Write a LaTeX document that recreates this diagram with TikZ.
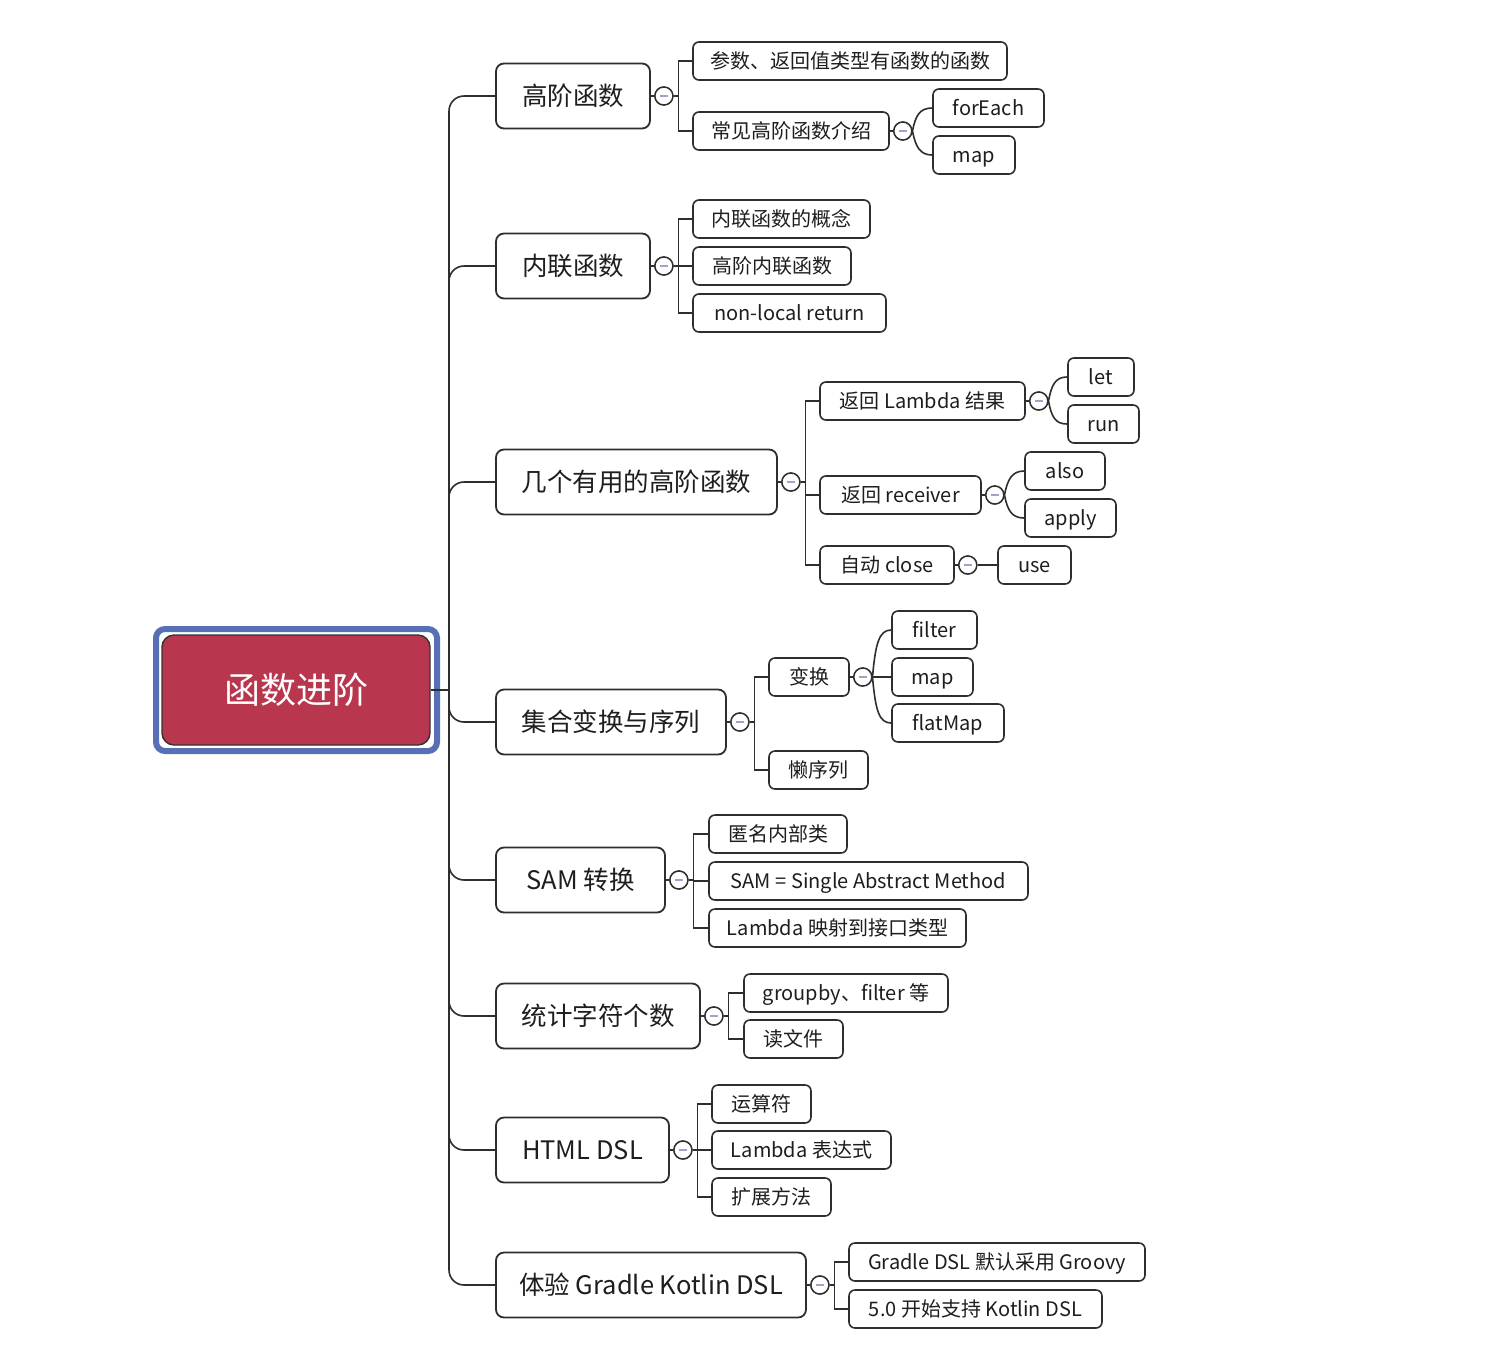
\documentclass[tikz,border=0pt]{standalone}
\usepackage{fontspec}
\setmainfont{Noto Sans CJK SC}
\definecolor{lc}{HTML}{2E2E2E}
\definecolor{tc}{HTML}{1E1E1E}
\definecolor{mc}{HTML}{9EA6C6}
\definecolor{rootred}{HTML}{B8374F}
\definecolor{selblue}{HTML}{5770B5}
\tikzset{
  l1/.style={draw=lc, line width=1.8pt, rounded corners=8pt, fill=white, text=tc,
    font=\fontsize{25.5}{30}\selectfont, inner sep=0pt, minimum height=65pt,
    text height=22.4pt, text depth=3.1pt},
  leaf/.style={draw=lc, line width=1.6pt, rounded corners=6pt, fill=white, text=tc,
    font=\fontsize{20}{24}\selectfont, inner sep=0pt, minimum height=38pt,
    text height=17.6pt, text depth=2.4pt},
  col/.style={circle, draw=lc, line width=1.4pt, fill=white, minimum size=18pt, inner sep=0pt,
    path picture={\draw[mc, line width=1.6pt] ([xshift=-4pt]path picture bounding box.center) -- ([xshift=4pt]path picture bounding box.center);}},
  link/.style={draw=lc, line width=1.6pt},
  rootbox/.style={draw=black!80, line width=1.4pt, rounded corners=12pt, fill=rootred, text=white,
    font=\fontsize{36}{42}\selectfont, inner sep=0pt, minimum width=268pt, minimum height=110pt},
  selframe/.style={draw=selblue, line width=6pt, rounded corners=9pt, inner sep=0pt,
    minimum width=281pt, minimum height=122pt}
}
\newcommand\cv[3]{\draw[link] (#1.east) .. controls +(3,#3) and +(-12,0) .. (#2.west);}
\newcommand\br[2]{\draw[link] (#1.east) -- ++(5,0) |- (#2.west);}
\begin{document}
\begin{tikzpicture}[x=1pt,y=-1pt]
\useasboundingbox (0,0) rectangle (1512,1366);
\fill[white] (0,0) rectangle (1512,1366);

% root
\node[selframe] (sel) at (296.5,690) {};
\node[rootbox] (root) at (296,690) {函数进阶};

% level 1
\node[l1, minimum width=154pt] (h1) at (573,96) {高阶函数};
\node[l1, minimum width=154pt] (h2) at (573,266) {内联函数};
\node[l1, minimum width=281pt] (h3) at (636.5,482) {几个有用的高阶函数};
\node[l1, minimum width=230pt] (h4) at (611,722) {集合变换与序列};
\node[l1, minimum width=169pt] (h5) at (580.5,880) {SAM 转换};
\node[l1, minimum width=204pt] (h6) at (598,1016) {统计字符个数};
\node[l1, minimum width=173pt] (h7) at (582.5,1150) {HTML DSL};
\node[l1, minimum width=310pt] (h8) at (651,1285) {体验 Gradle Kotlin DSL};

% trunk
\coordinate (tr) at (449,690);
\draw[link] (root.east) -- (tr);
\foreach \n in {h1,h2,h3,h4,h5,h6,h7,h8}
  \draw[link, rounded corners=15pt] (tr) |- (\n.west);

% leaves
\node[leaf, minimum width=314pt] (a1) at (850,61) {参数、返回值类型有函数的函数};
\node[leaf, minimum width=196pt] (a2) at (791,131) {常见高阶函数介绍};
\node[leaf, minimum width=111pt] (a21) at (988.5,108) {forEach};
\node[leaf, minimum width=82pt] (a22) at (974,155) {map};

\node[leaf, minimum width=177pt] (b1) at (781.5,219) {内联函数的概念};
\node[leaf, minimum width=158pt] (b2) at (772,266) {高阶内联函数};
\node[leaf, minimum width=193pt] (b3) at (789.5,313) {non-local return};

\node[leaf, minimum width=205pt] (c1) at (922.5,401) {返回 Lambda 结果};
\node[leaf, minimum width=161pt] (c2) at (900.5,495) {返回 receiver};
\node[leaf, minimum width=134pt] (c3) at (887,565) {自动 close};
\node[leaf, minimum width=66pt] (c11) at (1101,377) {let};
\node[leaf, minimum width=71pt] (c12) at (1103.5,424) {run};
\node[leaf, minimum width=80pt] (c21) at (1065,471) {also};
\node[leaf, minimum width=91pt] (c22) at (1070.5,518) {apply};
\node[leaf, minimum width=73pt] (c31) at (1034.5,565) {use};

\node[leaf, minimum width=80pt] (d1) at (809,677) {变换};
\node[leaf, minimum width=99pt] (d2) at (818.5,770) {懒序列};
\node[leaf, minimum width=85pt] (d11) at (934.5,630) {filter};
\node[leaf, minimum width=81pt] (d12) at (932.5,677) {map};
\node[leaf, minimum width=112pt] (d13) at (948,723) {flatMap};

\node[leaf, minimum width=138pt] (e1) at (778,834) {匿名内部类};
\node[leaf, minimum width=319pt] (e2) at (868.5,881) {SAM = Single Abstract Method};
\node[leaf, minimum width=257pt] (e3) at (837.5,928) {Lambda 映射到接口类型};

\node[leaf, minimum width=204pt] (f1) at (846,993) {groupby、filter 等};
\node[leaf, minimum width=99pt] (f2) at (793.5,1039) {读文件};

\node[leaf, minimum width=99pt] (g1) at (761.5,1104) {运算符};
\node[leaf, minimum width=179pt] (g2) at (801.5,1150) {Lambda 表达式};
\node[leaf, minimum width=119pt] (g3) at (771.5,1197) {扩展方法};

\node[leaf, minimum width=296pt] (k1) at (997,1262) {Gradle DSL 默认采用 Groovy};
\node[leaf, minimum width=253pt] (k2) at (975.5,1309) {5.0 开始支持 Kotlin DSL};

% collapse circles
\node[col] (ch1) at ([xshift=13pt]h1.east) {};
\node[col] (ch2) at ([xshift=13pt]h2.east) {};
\node[col] (ch3) at ([xshift=13pt]h3.east) {};
\node[col] (ch4) at ([xshift=13pt]h4.east) {};
\node[col] (ch5) at ([xshift=13pt]h5.east) {};
\node[col] (ch6) at ([xshift=13pt]h6.east) {};
\node[col] (ch7) at ([xshift=13pt]h7.east) {};
\node[col] (ch8) at ([xshift=13pt]h8.east) {};
\node[col] (ca2) at ([xshift=13pt]a2.east) {};
\node[col] (cc1) at ([xshift=13pt]c1.east) {};
\node[col] (cc2) at ([xshift=13pt]c2.east) {};
\node[col] (cc3) at ([xshift=13pt]c3.east) {};
\node[col] (cd1) at ([xshift=13pt]d1.east) {};

% connectors parent -> circle
\foreach \p/\c in {h1/ch1,h2/ch2,h3/ch3,h4/ch4,h5/ch5,h6/ch6,h7/ch7,h8/ch8,a2/ca2,c1/cc1,c2/cc2,c3/cc3,d1/cd1}
  \draw[link] (\p.east) -- (\c.west);

% brackets
\br{ch1}{a1} \br{ch1}{a2}
\br{ch2}{b1} \br{ch2}{b2} \br{ch2}{b3}
\br{ch3}{c1} \br{ch3}{c2} \br{ch3}{c3}
\br{ch4}{d1} \br{ch4}{d2}
\br{ch5}{e1} \br{ch5}{e2} \br{ch5}{e3}
\br{ch6}{f1} \br{ch6}{f2}
\br{ch7}{g1} \br{ch7}{g2} \br{ch7}{g3}
\br{ch8}{k1} \br{ch8}{k2}

% curves
\cv{ca2}{a21}{-16} \cv{ca2}{a22}{16}
\cv{cc1}{c11}{-16} \cv{cc1}{c12}{16}
\cv{cc2}{c21}{-16} \cv{cc2}{c22}{16}
\draw[link] (cc3.east) -- (c31.west);
\cv{cd1}{d11}{-34} \draw[link] (cd1.east) -- (d12.west); \cv{cd1}{d13}{34}

% redraw circles on top
\foreach \c in {ch1,ch2,ch3,ch4,ch5,ch6,ch7,ch8,ca2,cc1,cc2,cc3,cd1}
  \node[col] at (\c) {};
\end{tikzpicture}
\end{document}
